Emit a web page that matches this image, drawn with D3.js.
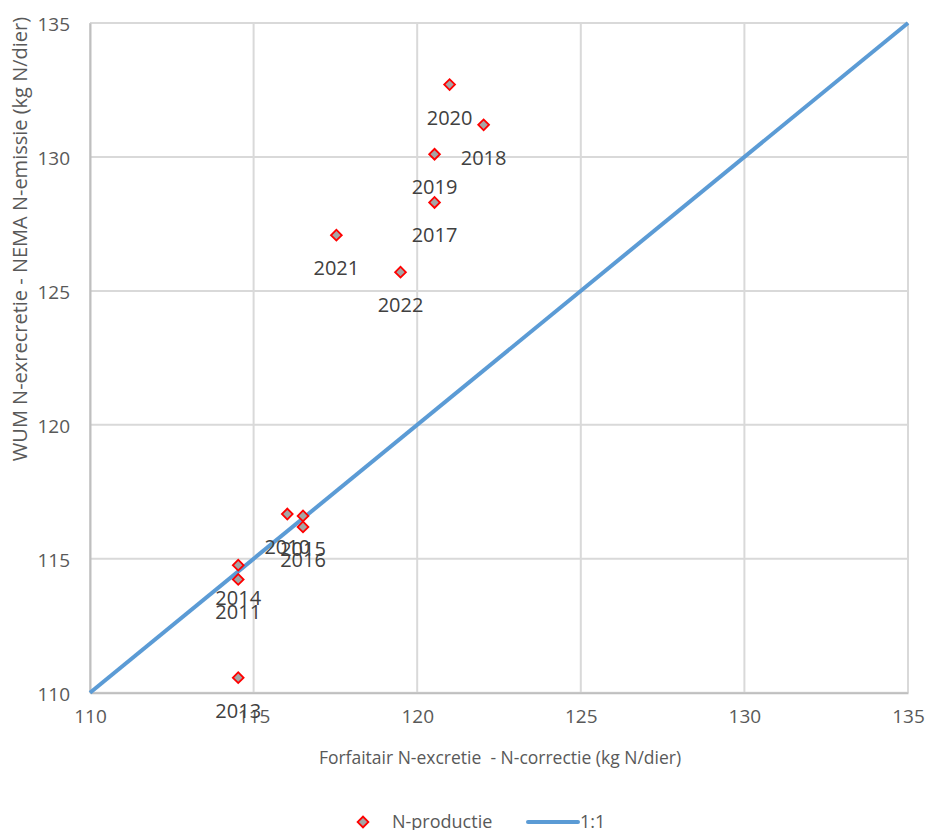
<!DOCTYPE html>
<html>
<head>
<meta charset="utf-8">
<script src="https://cdn.jsdelivr.net/npm/d3@7"></script>
<style>
  html, body { margin: 0; padding: 0; background: #fff; }
  svg { display: block; font-family: "Open Sans", sans-serif; }
</style>
</head>
<body>
<svg id="chart" width="929" height="830"></svg>
<script>
// ---- data ----
const years = ["2010", "2011", "2013", "2014", "2015", "2016", "2017", "2018", "2019", "2020", "2021", "2022"];
const forfaitair = [116.03, 114.53, 114.53, 114.53, 116.51, 116.51, 120.53, 122.03, 120.53, 120.99, 117.53, 119.49];
const wum = [116.67, 114.23, 110.56, 114.76, 116.6, 116.19, 128.3, 131.2, 130.1, 132.7, 127.08, 125.7];
const lineX = [110, 135];
const lineY = [110, 135];
const xTicks = [110, 115, 120, 125, 130, 135];
const yTicks = [110, 115, 120, 125, 130, 135];
const seriesNames = ["N-productie", "1:1"];
const xTitle = "Forfaitair N-excretie  - N-correctie (kg N/dier)";
const yTitle = "WUM N-exrecretie - NEMA N-emissie (kg N/dier)";

(function () {
const points = years.map((y, i) => ({ year: y, x: forfaitair[i], y: wum[i] }));
const linePts = lineX.map((v, i) => ({ x: v, y: lineY[i] }));

const svg = d3.select("#chart");
const pLeft = 90, pRight = 908, pTop = 23, pBottom = 692.7;

const x = d3.scaleLinear().domain([110, 135]).range([pLeft, pRight]);
const y = d3.scaleLinear().domain([110, 135]).range([pBottom, pTop]);

// gridlines
const grid = svg.append("g");
grid.selectAll("line.v").data(xTicks).join("line").attr("class", "v")
  .attr("x1", d => x(d)).attr("x2", d => x(d))
  .attr("y1", pTop).attr("y2", pBottom)
  .attr("stroke", "#d9d9d9").attr("stroke-width", 2);
grid.selectAll("line.h").data(yTicks).join("line").attr("class", "h")
  .attr("y1", d => y(d)).attr("y2", d => y(d))
  .attr("x1", pLeft).attr("x2", pRight)
  .attr("stroke", "#d9d9d9").attr("stroke-width", 2);

// axes
const xAxis = svg.append("g").attr("transform", `translate(0,${pBottom})`)
  .call(d3.axisBottom(x).tickValues(xTicks).tickSize(0).tickPadding(28).tickFormat(d3.format("d")));
xAxis.select(".domain").attr("stroke", "#bfbfbf").attr("stroke-width", 2);
xAxis.selectAll("text").attr("fill", "#595959").style("font-size", "19px").style("font-family", "Open Sans").attr("dy", "0.1em");

const yAxis = svg.append("g").attr("transform", `translate(${pLeft},0)`)
  .call(d3.axisLeft(y).tickValues(yTicks).tickSize(0).tickPadding(20).tickFormat(d3.format("d")));
yAxis.select(".domain").attr("stroke", "#bfbfbf").attr("stroke-width", 2);
yAxis.selectAll("text").attr("fill", "#595959").style("font-size", "19px").style("font-family", "Open Sans").attr("dy", "0.4em");

// 1:1 line
svg.append("path").datum(linePts)
  .attr("d", d3.line().x(d => x(d.x)).y(d => y(d.y)))
  .attr("fill", "none").attr("stroke", "#5b9bd5").attr("stroke-width", 4);

// markers
const diamond = d3.symbol().type(d3.symbolSquare).size(58);
svg.append("g").selectAll("path").data(points).join("path")
  .attr("d", diamond)
  .attr("transform", d => `translate(${x(d.x)},${y(d.y)}) rotate(45)`)
  .attr("fill", "#a5a5a5").attr("stroke", "#ff0000").attr("stroke-width", 1.8);

// labels
svg.append("g").selectAll("text").data(points).join("text")
  .attr("x", d => x(d.x)).attr("y", d => y(d.y) + 32.5)
  .attr("text-anchor", "middle").attr("dominant-baseline", "central")
  .attr("fill", "#404040").style("font-size", "20px")
  .text(d => d.year);

// axis titles
svg.append("text").attr("x", 500).attr("y", 757)
  .attr("text-anchor", "middle").attr("dominant-baseline", "central")
  .style("white-space", "pre")
  .attr("fill", "#595959").style("font-size", "17.5px").text(xTitle);
svg.append("text").attr("transform", `translate(19,239) rotate(-90)`)
  .attr("text-anchor", "middle").attr("dominant-baseline", "central")
  .attr("fill", "#595959").style("font-size", "20px").text(yTitle);

// legend
const lg = svg.append("g");
lg.append("path").attr("d", diamond)
  .attr("transform", "translate(363,822) rotate(45)")
  .attr("fill", "#a5a5a5").attr("stroke", "#ff0000").attr("stroke-width", 1.8);
lg.append("text").attr("x", 392).attr("y", 821).attr("dominant-baseline", "central")
  .attr("fill", "#595959").style("font-size", "18px").text(seriesNames[0]);
lg.append("line").attr("x1", 528).attr("x2", 578).attr("y1", 822).attr("y2", 822)
  .attr("stroke", "#5b9bd5").attr("stroke-width", 4).attr("stroke-linecap", "round");
lg.append("text").attr("x", 580).attr("y", 821).attr("dominant-baseline", "central")
  .attr("fill", "#595959").style("font-size", "18px").text(seriesNames[1]);
})();
</script>
</body>
</html>
